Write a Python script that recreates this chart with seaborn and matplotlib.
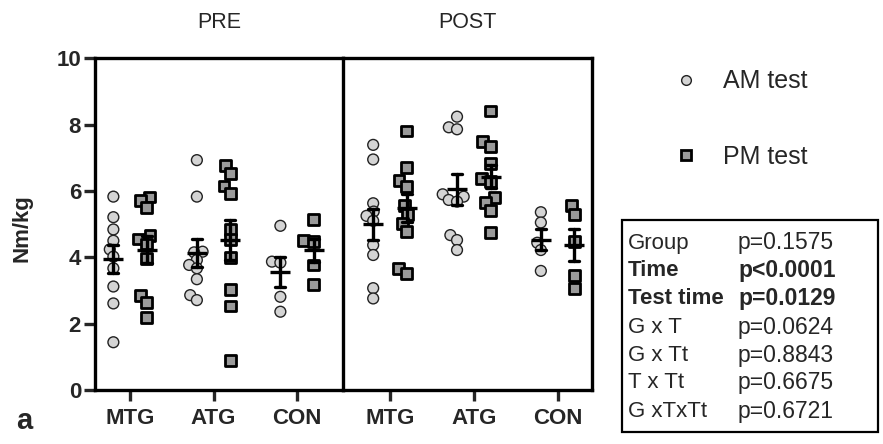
import numpy as np
import pandas as pd
import matplotlib
matplotlib.use("Agg")
import matplotlib.pyplot as plt
import seaborn as sns
from matplotlib.lines import Line2D
from matplotlib.patches import Rectangle

groups = ["MTG", "ATG", "CON"]
tests = ["AM test", "PM test"]
times = ["PRE", "POST"]

pre_am_mtg = [5.83, 5.21, 4.84, 4.50, 4.24, 4.02, 3.67, 3.12, 2.61, 1.44]
pre_pm_mtg = [5.82, 5.72, 5.50, 4.67, 4.55, 4.40, 3.96, 2.86, 2.64, 2.19]
pre_am_atg = [6.93, 5.83, 4.17, 4.15, 3.92, 3.77, 3.67, 3.34, 2.86, 2.71]
pre_pm_atg = [6.78, 6.53, 6.15, 5.93, 4.84, 4.54, 4.00, 3.04, 2.53, 0.88]
pre_am_con = [4.95, 3.87, 3.84, 2.81, 2.36]
pre_pm_con = [5.13, 4.50, 4.47, 3.77, 3.17]

post_am_mtg = [7.39, 6.95, 5.63, 5.38, 5.25, 5.10, 4.37, 4.07, 3.07, 2.76]
post_pm_mtg = [7.81, 6.71, 6.31, 6.13, 5.55, 5.28, 5.03, 4.77, 3.67, 3.50]
post_am_atg = [8.24, 7.92, 7.86, 5.90, 5.83, 5.73, 5.68, 4.67, 4.52, 4.22]
post_pm_atg = [8.41, 7.49, 7.34, 6.83, 6.38, 6.28, 5.80, 5.65, 5.40, 4.74]
post_am_con = [5.36, 5.05, 4.44, 4.22, 3.59]
post_pm_con = [5.55, 5.28, 4.47, 3.45, 3.07]

stat_terms = ["Group", "Time", "Test time", "G x T", "G x Tt", "T x Tt", "G xTxTt"]
stat_pvals = ["p=0.1575", "p<0.0001", "p=0.0129", "p=0.0624", "p=0.8843", "p=0.6675", "p=0.6721"]
stat_bold = [False, True, True, False, False, False, False]

series = {
    ("PRE", "AM test", "MTG"): pre_am_mtg, ("PRE", "PM test", "MTG"): pre_pm_mtg,
    ("PRE", "AM test", "ATG"): pre_am_atg, ("PRE", "PM test", "ATG"): pre_pm_atg,
    ("PRE", "AM test", "CON"): pre_am_con, ("PRE", "PM test", "CON"): pre_pm_con,
    ("POST", "AM test", "MTG"): post_am_mtg, ("POST", "PM test", "MTG"): post_pm_mtg,
    ("POST", "AM test", "ATG"): post_am_atg, ("POST", "PM test", "ATG"): post_pm_atg,
    ("POST", "AM test", "CON"): post_am_con, ("POST", "PM test", "CON"): post_pm_con,
}
rows = []
for (t, tt, g), vals in series.items():
    for v in vals:
        rows.append({"time": t, "test": tt, "group": g, "value": v})
df = pd.DataFrame(rows)

sns.set_style("ticks")
plt.rcParams["font.family"] = ["Liberation Sans", "DejaVu Sans"]

W, H = 883, 444
fig = plt.figure(figsize=(W / 100, H / 100), dpi=100)
y0, y1 = 390, 58.3
ax1 = fig.add_axes([95 / W, 1 - y0 / H, 248 / W, (y0 - y1) / H])
ax2 = fig.add_axes([343 / W, 1 - y0 / H, 249 / W, (y0 - y1) / H], sharey=ax1)

am_fill, pm_fill = "#d4d4d4", "#9a9a9a"
swarm_size = 4.8
shown_size = 7.8

for ax, t in [(ax1, "PRE"), (ax2, "POST")]:
    d = df[df.time == t]
    sns.swarmplot(data=d[d.test == "AM test"], x="group", y="value", hue="test",
                  hue_order=tests, order=groups, dodge=True, marker="o", size=swarm_size,
                  palette={"AM test": am_fill, "PM test": pm_fill},
                  edgecolor="#222222", linewidth=1.0, ax=ax, legend=False, zorder=3)
    sns.swarmplot(data=d[d.test == "PM test"], x="group", y="value", hue="test",
                  hue_order=tests, order=groups, dodge=True, marker="s", size=swarm_size,
                  palette={"AM test": am_fill, "PM test": pm_fill},
                  edgecolor="black", linewidth=2.0, ax=ax, legend=False, zorder=3)
    sns.pointplot(data=d, x="group", y="value", hue="test", hue_order=tests,
                  order=groups, dodge=0.4, errorbar="se", markers="_",
                  markersize=14, markeredgewidth=2.4, linestyle="none",
                  capsize=0.12, palette={"AM test": "black", "PM test": "black"},
                  err_kws={"linewidth": 2.4, "zorder": 6}, ax=ax, legend=False, zorder=6)
    ax.set_xlabel("")
    ax.set_ylabel("")
    for s in ax.spines.values():
        s.set_linewidth(2.4)
        s.set_color("black")
    ax.tick_params(axis="x", length=8, width=2.4, labelsize=16, pad=5)
    for lab in ax.get_xticklabels():
        lab.set_fontweight("bold")

ax1.set_xlim(-0.42, 2.55)
ax2.set_xlim(-0.56, 2.41)
ax1.set_ylim(0, 10)
ax1.set_yticks([0, 2, 4, 6, 8, 10])
ax1.tick_params(axis="y", length=8, width=2.4, labelsize=16, pad=2)
for lab in ax1.get_yticklabels():
    lab.set_fontweight("bold")
ax1.spines["right"].set_visible(False)
ax2.tick_params(axis="y", left=False, labelleft=False)

fig.text(22 / W, 1 - 228 / H, "Nm/kg", fontsize=16, fontweight="bold", rotation=90,
         ha="center", va="center")
fig.text(219 / W, 1 - 22 / H, "PRE", fontsize=15.5, ha="center", va="center")
fig.text(467 / W, 1 - 22 / H, "POST", fontsize=15.5, ha="center", va="center")
fig.text(24 / W, 1 - 421 / H, "a", fontsize=21, fontweight="bold", ha="center", va="center")

handles = [
    Line2D([], [], marker="o", linestyle="none", markersize=7, markerfacecolor=am_fill,
           markeredgecolor="#222222", markeredgewidth=1.0),
    Line2D([], [], marker="s", linestyle="none", markersize=7, markerfacecolor=pm_fill,
           markeredgecolor="black", markeredgewidth=2.0),
]
fig.legend(handles, tests, loc="upper left", bbox_to_anchor=(663 / W, 1 - 59.5 / H),
           frameon=False, fontsize=18, handlelength=1.0, handletextpad=1.0,
           labelspacing=2.04, borderaxespad=0)

fig.add_artist(Rectangle((622 / W, 1 - 432 / H), 256 / W, 212 / H, fill=False,
                         linewidth=1.6, edgecolor="black", transform=fig.transFigure))
for i, (term, pv, b) in enumerate(zip(stat_terms, stat_pvals, stat_bold)):
    yy = 1 - (243 + 28 * i) / H
    fw = "bold" if b else "normal"
    fig.text(628 / W, yy, term, fontsize=16, fontweight=fw, ha="left", va="center")
    fig.text(738 / W, yy, pv, fontsize=16.5, fontweight=fw, ha="left", va="center")

# lay out the swarms with a compact footprint, then show the markers at full size
fig.canvas.draw()
for ax in (ax1, ax2):
    for coll in ax.collections:
        if "draw" in coll.__dict__:
            del coll.draw
        n = len(coll.get_offsets())
        coll.set_sizes(np.full(n, shown_size ** 2))

fig.savefig("out.png", dpi=100)
